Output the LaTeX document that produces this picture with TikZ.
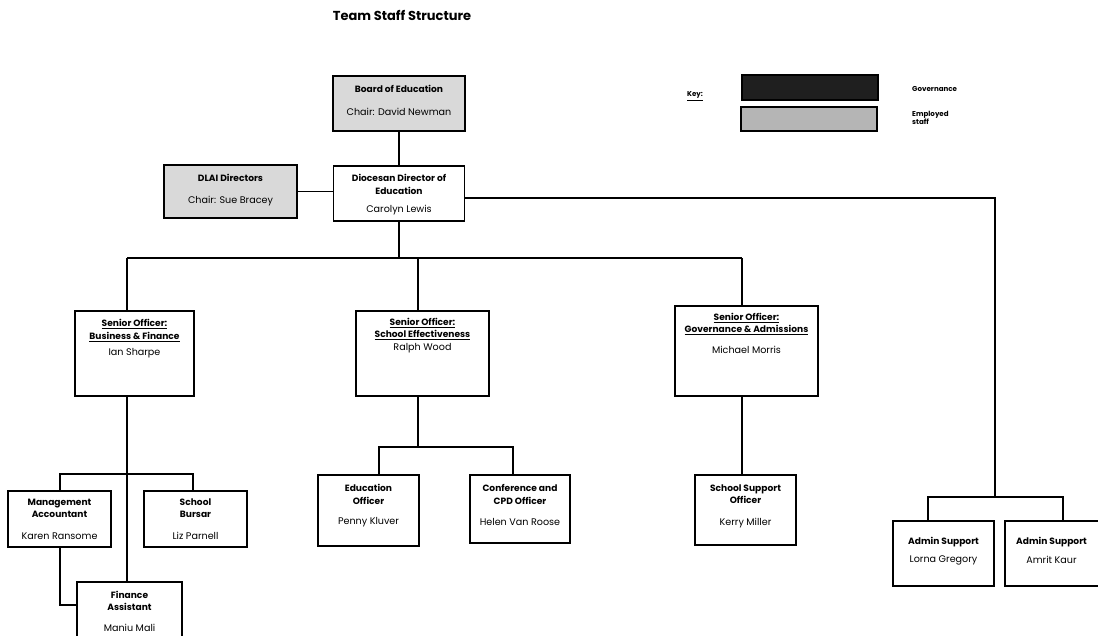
\documentclass[tikz,border=0pt]{standalone}
\usepackage{fontspec}
\setmainfont{Poppins}
\begin{document}
\begin{tikzpicture}[x=1pt,y=-1pt,
  box/.style={draw, line width=1.2pt, inner sep=0pt, anchor=center},
  gov/.style={box, fill=gray!30},
  ttl/.style={align=center, inner sep=0pt, font=\bfseries\fontsize{9.1}{12.3}\selectfont},
  nm/.style={align=center, inner sep=0pt, font=\fontsize{9.6}{12}\selectfont},
  keyt/.style={inner sep=0pt, font=\bfseries\fontsize{7.1}{8}\selectfont},
  conn/.style={line width=1.2pt}
]
\useasboundingbox (0,0) rectangle (1098,635);
\clip (0,0) rectangle (1098,635);

% title
\node[inner sep=0pt, font=\bfseries\fontsize{13}{15}\selectfont] (title) at (402,15) {Team Staff Structure};

% key
\node[keyt] (keylbl) at (695,96) {\underline{Key:}};
\node[box, fill=black!88, minimum width=136pt, minimum height=25pt] (keygov) at (810,87.5) {};
\node[box, fill=gray!58, minimum width=136pt, minimum height=24pt] (keyemp) at (809,119) {};
\node[keyt, anchor=west] (keygovt) at (912,89) {Governance};
\node[keyt, anchor=west, align=left, font=\bfseries\fontsize{7.1}{7.5}\selectfont] (keyempt) at (912,118) {Employed\\staff};

% boxes
\node[gov, minimum width=132pt, minimum height=55pt] (board) at (399,103.5) {};
\node[gov, minimum width=133pt, minimum height=53pt] (dlai) at (230.5,191.5) {};
\node[box, minimum width=131pt, minimum height=55pt] (ddir) at (399,193.5) {};
\node[box, minimum width=119pt, minimum height=85pt] (sobf) at (134.5,353.5) {};
\node[box, minimum width=133pt, minimum height=85pt] (sose) at (422.5,353.5) {};
\node[box, minimum width=143pt, minimum height=90pt] (soga) at (746.5,351) {};
\node[box, minimum width=103pt, minimum height=56pt] (ma) at (59.5,519) {};
\node[box, minimum width=103pt, minimum height=56pt] (sb) at (195.5,519) {};
\node[box, minimum width=105pt, minimum height=66pt] (fa) at (129.5,615) {};
\node[box, minimum width=101pt, minimum height=71pt] (eo) at (368.5,510.5) {};
\node[box, minimum width=100pt, minimum height=68pt] (cpd) at (520,509) {};
\node[box, minimum width=101pt, minimum height=70pt] (sso) at (745.5,510) {};
\node[box, minimum width=101pt, minimum height=65pt] (ad1) at (943.5,553.5) {};
\node[box, minimum width=101pt, minimum height=65pt] (ad2) at (1055.5,553.5) {};

% texts
\node[ttl] (boardt) at (399,89) {Board of Education};
\node[nm] (boardn) at (399,112) {Chair: David Newman};
\node[ttl] (dlait) at (230.5,178) {DLAI Directors};
\node[nm] (dlain) at (230.5,201) {Chair: Sue Bracey};
\node[ttl] (ddirt) at (399,184.5) {Diocesan Director of\\Education};
\node[nm] (ddirn) at (399,210) {Carolyn Lewis};
\node[ttl] (sobft) at (134.5,330.5) {\underline{Senior Officer:}\\\underline{Business \& Finance}};
\node[nm] (sobfn) at (134.5,353) {Ian Sharpe};
\node[ttl] (soset) at (422.5,329) {\underline{Senior Officer:}\\\underline{School Effectiveness}};
\node[nm] (sosen) at (422.5,348) {Ralph Wood};
\node[ttl] (sogat) at (746.5,324) {\underline{Senior Officer:}\\\underline{Governance \& Admissions}};
\node[nm] (sogan) at (746.5,350) {Michael Morris};
\node[ttl] (mat) at (59.5,508.5) {Management\\Accountant};
\node[nm] (man) at (59.5,536) {Karen Ransome};
\node[ttl] (sbt) at (195.5,508.5) {School\\Bursar};
\node[nm] (sbn) at (195.5,536) {Liz Parnell};
\node[ttl] (fat) at (129.5,601) {Finance\\Assistant};
\node[nm] (fan) at (129.5,628) {Maniu Mali};
\node[ttl] (eot) at (368.5,494.5) {Education\\Officer};
\node[nm] (eon) at (368.5,522) {Penny Kluver};
\node[ttl] (cpdt) at (520,494.5) {Conference and\\CPD Officer};
\node[nm] (cpdn) at (520,522) {Helen Van Roose};
\node[ttl] (ssot) at (745.5,494) {School Support\\Officer};
\node[nm] (sson) at (745.5,523) {Kerry Miller};
\node[ttl] (ad1t) at (943.5,542) {Admin Support};
\node[nm] (ad1n) at (943.5,560) {Lorna Gregory};
\node[ttl] (ad2t) at (1051.5,542) {Admin Support};
\node[nm] (ad2n) at (1051.5,560) {Amrit Kaur};

% connector helper coordinates
\coordinate (t1) at (127,258);
\coordinate (t2) at (418,258);
\coordinate (t3) at (742,258);
\coordinate (b1) at (60,474);
\coordinate (b2) at (193,474);
\coordinate (f1) at (60,605);
\coordinate (e0) at (418,447);
\coordinate (e1) at (379,447);
\coordinate (e2) at (513,447);
\coordinate (r0) at (995,198);
\coordinate (a0) at (995,497);
\coordinate (a1) at (928,497);
\coordinate (a2) at (1063,497);

% connectors
\draw[conn] (board.south) -- (ddir.north);
\draw[conn] (dlai.east) -- (ddir.west |- dlai.east);
\draw[conn] (ddir.south) -- (ddir.south |- t1);
\draw[conn] (t1) -- (t3);
\draw[conn] (t1) -- (t1 |- sobf.north);
\draw[conn] (t2) -- (t2 |- sose.north);
\draw[conn] (t3) -- (t3 |- soga.north);
\draw[conn] (t1 |- sobf.south) -- (t1 |- fa.north);
\draw[conn] (b1 |- ma.north) -- (b1) -- (b2) -- (b2 |- sb.north);
\draw[conn] (b1 |- ma.south) -- (f1) -- (f1 -| fa.west);
\draw[conn] (t2 |- sose.south) -- (e0);
\draw[conn] (e1 |- eo.north) -- (e1) -- (e2) -- (e2 |- cpd.north);
\draw[conn] (t3 |- soga.south) -- (t3 |- sso.north);
\draw[conn] (r0 -| ddir.east) -- (r0) -- (a0);
\draw[conn] (a1 |- ad1.north) -- (a1) -- (a2) -- (a2 |- ad2.north);
\end{tikzpicture}
\end{document}
